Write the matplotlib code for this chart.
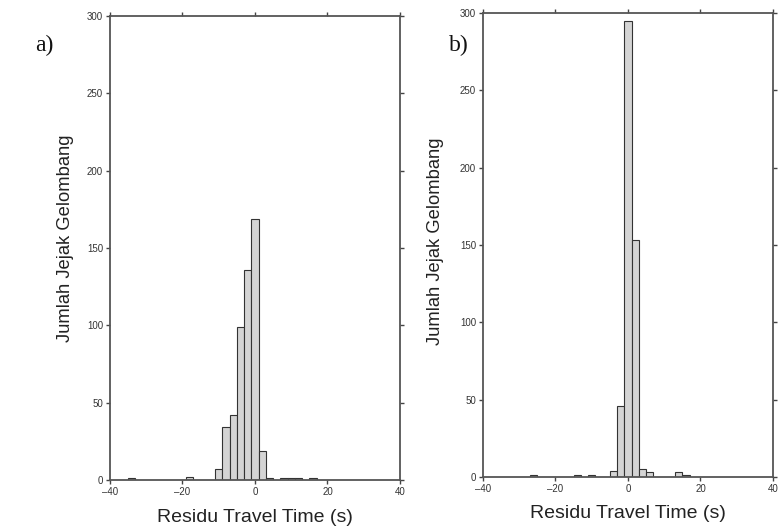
import matplotlib
matplotlib.use("Agg")
import matplotlib.pyplot as plt

# Panel a) histogram (bin centers in s, counts)
a_centers = [-34, -18, -10, -8, -6, -4, -2, 0, 2, 4, 8, 10, 12, 16]
a_counts = [1, 2, 7, 34, 42, 99, 136, 169, 19, 1, 1, 1, 1, 1]

# Panel b) histogram
b_centers = [-26, -14, -10, -4, -2, 0, 2, 4, 6, 14, 16]
b_counts = [1, 1, 1, 4, 46, 295, 153, 5, 3, 3, 1]

bin_width = 2
x_ticks = [-40, -20, 0, 20, 40]
x_ticklabels = ["\u201340", "\u201320", "0", "20", "40"]
y_ticks = [0, 50, 100, 150, 200, 250, 300]
xlabel = "Residu Travel Time (s)"
ylabel = "Jumlah Jejak Gelombang"
panel_labels = ["a)", "b)"]

plt.rcParams['font.family'] = ['Liberation Sans', 'DejaVu Sans']

W, H = 781, 529
fig = plt.figure(figsize=(W / 100, H / 100), dpi=100)
fig.patch.set_facecolor('white')

rects = [[0.1408, 0.0926, 0.3713, 0.877], [0.6184, 0.0983, 0.3713, 0.877]]
data = [(a_centers, a_counts), (b_centers, b_counts)]
label_pos = [(0.045, 0.915), (0.575, 0.915)]
ylabel_xy = [(66, 238), (436, 241)]
xlabel_xy = [(255, 518), (628, 513)]

for i, (rect, (c, h)) in enumerate(zip(rects, data)):
    ax = fig.add_axes(rect)
    ax.bar(c, h, width=bin_width, color='#d4d4d4', edgecolor='#333333',
           linewidth=0.8, align='center', zorder=2)
    ax.set_xlim(-40, 40)
    ax.set_ylim(0, 300)
    ax.set_xticks(x_ticks)
    ax.set_xticklabels(x_ticklabels)
    ax.set_yticks(y_ticks)
    ax.tick_params(axis='both', direction='out', length=3, width=1.0,
                   color='#444444', labelsize=7, labelcolor='#333333',
                   top=True, right=True, pad=2)
    for s in ax.spines.values():
        s.set_color('#555555')
        s.set_linewidth(1.3)
    fig.text(xlabel_xy[i][0] / W, 1 - xlabel_xy[i][1] / H, xlabel,
             fontsize=14, color='#222222', ha='center', va='center')
    fig.text(ylabel_xy[i][0] / W, 1 - ylabel_xy[i][1] / H, ylabel,
             rotation=90, fontsize=13.2, color='#222222',
             ha='center', va='center')
    fig.text(label_pos[i][0], label_pos[i][1], panel_labels[i],
             fontsize=17, family=['Liberation Serif', 'DejaVu Serif'],
             color='#111111', ha='left', va='center')

fig.savefig("out.png", dpi=100)
